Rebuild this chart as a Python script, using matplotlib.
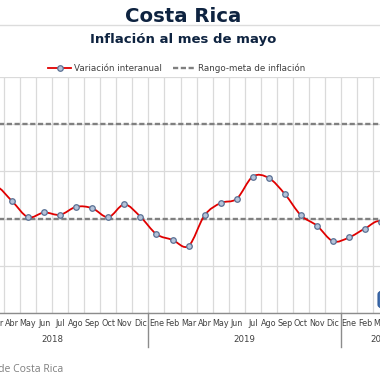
import numpy as np
import matplotlib
matplotlib.use("Agg")
import matplotlib.pyplot as plt
from matplotlib.path import Path
from matplotlib.patches import PathPatch, FancyBboxPatch
from matplotlib.lines import Line2D
import matplotlib.transforms as mtransforms

# ---- data ----
months = ["Ene", "Feb", "Mar", "Abr", "May", "Jun", "Jul", "Ago", "Sep", "Oct", "Nov", "Dic"]
years = ["2018", "2019", "2020"]
months_2020 = 5
inflation = [
    2.60, 2.50, 2.68, 2.37, 2.03, 2.13, 2.08, 2.25, 2.22, 2.03, 2.30, 2.04,   # 2018
    1.67, 1.55, 1.42, 2.07, 2.33, 2.42, 2.89, 2.86, 2.52, 2.07, 1.85, 1.52,   # 2019
    1.60, 1.79, 1.93, 1.40, 0.84,                                             # 2020
]
target_low = 2.0
target_high = 4.0
title = "Costa Rica"
subtitle = "Inflación al mes de mayo"
source = "Fuente: Banco Central de Costa Rica"

W, H = 380, 380
fig = plt.figure(figsize=(3.8, 3.8), dpi=100)

n = len(inflation)
x = np.arange(n)
labels = (months * 3)[:n]

# axes placement in pixels
px_i3 = 12.0
step = 16.05
left_px = px_i3 + (-0.5 - 3) * step
right_px = px_i3 + (n - 0.5 - 3) * step
bottom_px, top_px = 313.0, 77.0
ax = fig.add_axes([left_px / W, 1 - bottom_px / H, (right_px - left_px) / W, (bottom_px - top_px) / H])
ax.set_xlim(-0.5, n - 0.5)
ax.set_ylim(0, 5)

grid_c = "#DADADA"
for yv in range(0, 6):
    ax.axhline(yv, color=grid_c, lw=0.9, zorder=0)
for xv in np.arange(-0.5, n, 1.0):
    ax.axvline(xv, color=grid_c, lw=0.9, zorder=0)

for sp in ["left", "right", "top"]:
    ax.spines[sp].set_visible(False)
ax.spines["bottom"].set_color("#8C8C8C")
ax.spines["bottom"].set_linewidth(1.0)
ax.set_yticks([])
ax.set_xticks(x)
ax.set_xticklabels(labels, fontsize=5.8, color="#404040", family="DejaVu Sans")
ax.tick_params(axis="x", length=0, pad=4.5)
# labels lying wholly outside the picture are not drawn
for xi, lab in zip(x, ax.get_xticklabels()):
    px = px_i3 + (xi - 3) * step
    if px < -10 or px > W + 10:
        lab.set_visible(False)

# target band lines
for tv in (target_low, target_high):
    ax.axhline(tv, color="#808080", lw=1.7, dashes=(2.2, 1.1), zorder=2)

# smooth line (Bezier through points)
pts = np.column_stack([x, inflation]).astype(float)
verts = [tuple(pts[0])]
codes = [Path.MOVETO]
for i in range(n - 1):
    p0 = pts[i - 1] if i > 0 else pts[i]
    p1 = pts[i]
    p2 = pts[i + 1]
    p3 = pts[i + 2] if i + 2 < n else pts[i + 1]
    c1 = p1 + (p2 - p0) / 6.0
    c2 = p2 - (p3 - p1) / 6.0
    verts += [tuple(c1), tuple(c2), tuple(p2)]
    codes += [Path.CURVE4] * 3
ax.add_patch(PathPatch(Path(verts, codes), fill=False, edgecolor="#E00000", lw=1.3, zorder=3))
ax.plot(x, inflation, ls="none", marker="o", ms=4.0, mfc="#B4C3D9", mec="#5B7194", mew=0.9, zorder=4)

# year labels and separators
trans = mtransforms.blended_transform_factory(ax.transData, fig.transFigure)
for k, yr in enumerate(years):
    cnt = 12 if k < 2 else months_2020
    center = k * 12 + (cnt - 1) / 2.0
    ax.text(center, 1 - 340 / H, yr, transform=trans, ha="center", va="center",
            fontsize=6.2, color="#404040", family="DejaVu Sans", clip_on=False)
for b in (11.5, 23.5):
    ax.add_line(Line2D([b, b], [1 - 313 / H, 1 - 347 / H], transform=trans, color="#8C8C8C",
                       lw=1.0, clip_on=False))

# titles
fig.add_artist(Line2D([0, 1], [1 - 25 / H, 1 - 25 / H], color="#DCDCDC", lw=1.0, zorder=0))
fig.text(183 / W, 1 - 17 / H, title, ha="center", va="center", fontsize=14.2, fontweight="bold",
         color="#0E2340", family="DejaVu Sans", zorder=3)
fig.text(183.5 / W, 1 - 40 / H, subtitle, ha="center", va="center", fontsize=9.5, fontweight="bold",
         color="#0E2340", family="DejaVu Sans")

# legend
h1 = Line2D([], [], color="#E00000", lw=1.3, marker="o", ms=4.0, mfc="#B4C3D9", mec="#5B7194", mew=0.9)
h2 = Line2D([], [], color="#808080", lw=1.7, dashes=(2.2, 1.1))
fig.legend([h1, h2], ["Variación interanual", "Rango-meta de inflación"], loc="center",
           bbox_to_anchor=(177 / W, 1 - 68 / H), ncol=2, frameon=False,
           handlelength=2.6, handletextpad=0.3, columnspacing=1.3, labelcolor="#404040",
           prop={"family": "DejaVu Sans", "size": 6.3})

# source
fig.text(63 / W, 1 - 370 / H, source, ha="right", va="center", fontsize=7.5, color="#7F7F7F",
         family="Open Sans")

# partial data-label box at right edge
fig.add_artist(FancyBboxPatch((378 / W, 1 - 307.5 / H), 30 / W, 16 / H,
                              boxstyle="round,pad=0,rounding_size=0.008",
                              transform=fig.transFigure, facecolor="#3F6DAE", edgecolor="#2F5A99",
                              lw=0.8))

fig.savefig("out.png", dpi=100)
